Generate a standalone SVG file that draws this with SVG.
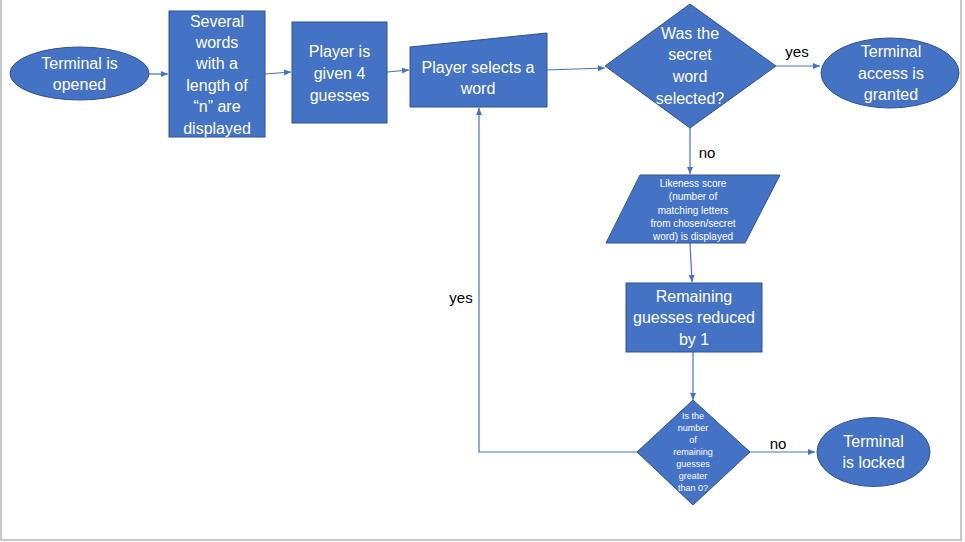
<svg xmlns="http://www.w3.org/2000/svg" width="965" height="542" viewBox="0 0 965 542">
<defs>
<marker id="arr" markerWidth="8" markerHeight="8" refX="7" refY="4" orient="auto" markerUnits="userSpaceOnUse">
<path d="M0,1 L7,4 L0,7 Z" fill="#4472C4"/>
</marker>
<style>
.shape{fill:#4472C4;stroke:#2F528F;stroke-width:1}
.t{fill:#ffffff;font-family:"Liberation Sans",Arial,sans-serif;font-size:16px;text-anchor:middle}
.s{font-size:10px}
.xs{font-size:9px}
.lbl{fill:#000000;font-family:"Liberation Sans",Arial,sans-serif;font-size:15px;text-anchor:middle}
.c{fill:none;stroke:#4472C4;stroke-width:1.2}
</style>
</defs>
<rect width="965" height="542" fill="#ffffff"/>
<polyline points="1,0 1,540 961,540 961,0" fill="none" stroke="#c8c8c8" stroke-width="2"/>

<g id="connectors">
<line class="c" x1="149" y1="74" x2="168" y2="74" marker-end="url(#arr)"/>
<line class="c" x1="265" y1="74" x2="291" y2="72" marker-end="url(#arr)"/>
<line class="c" x1="387" y1="72" x2="409" y2="70" marker-end="url(#arr)"/>
<line class="c" x1="547" y1="70" x2="605" y2="68" marker-end="url(#arr)"/>
<line class="c" x1="776" y1="66" x2="820" y2="66" marker-end="url(#arr)"/>
<line class="c" x1="690" y1="128" x2="690" y2="174" marker-end="url(#arr)"/>
<line class="c" x1="690" y1="243" x2="692" y2="282" marker-end="url(#arr)"/>
<line class="c" x1="693" y1="352" x2="693" y2="400" marker-end="url(#arr)"/>
<line class="c" x1="750" y1="452" x2="815" y2="452" marker-end="url(#arr)"/>
<polyline class="c" points="638,452 479,452 479,108" marker-end="url(#arr)"/>
<text class="lbl" x="797" y="57">yes</text>
<text class="lbl" x="707" y="158">no</text>
<text class="lbl" x="461" y="303">yes</text>
<text class="lbl" x="778" y="449">no</text>
</g>

<g id="terminal-opened">
<ellipse class="shape" cx="79.5" cy="73.5" rx="69.5" ry="26.5"/>
<text class="t" x="79.5" y="69">Terminal is</text>
<text class="t" x="79.5" y="90">opened</text>
</g>

<g id="words-displayed">
<rect class="shape" x="169" y="11" width="96" height="126"/>
<text class="t" x="217" y="27">Several</text>
<text class="t" x="217" y="48">words</text>
<text class="t" x="217" y="69">with a</text>
<text class="t" x="217" y="91">length of</text>
<text class="t" x="217" y="112">“n” are</text>
<text class="t" x="217" y="134">displayed</text>
</g>

<g id="given-guesses">
<rect class="shape" x="292" y="22" width="95" height="101"/>
<text class="t" x="339.5" y="57">Player is</text>
<text class="t" x="339.5" y="79">given 4</text>
<text class="t" x="339.5" y="101">guesses</text>
</g>

<g id="player-selects">
<polygon class="shape" points="410,47 547,33 547,107 410,107"/>
<text class="t" x="478" y="73">Player selects a</text>
<text class="t" x="478" y="94">word</text>
</g>

<g id="secret-selected">
<polygon class="shape" points="690,4 776,66 690,128 605,66"/>
<text class="t" x="690" y="39">Was the</text>
<text class="t" x="690" y="60">secret</text>
<text class="t" x="690" y="82">word</text>
<text class="t" x="690" y="104">selected?</text>
</g>

<g id="access-granted">
<ellipse class="shape" cx="890" cy="73" rx="69" ry="35"/>
<text class="t" x="891" y="57">Terminal</text>
<text class="t" x="891" y="79">access is</text>
<text class="t" x="891" y="100">granted</text>
</g>

<g id="likeness-score">
<polygon class="shape" points="640,175 780,175 745,243 606,243"/>
<text class="t s" x="693" y="187">Likeness score</text>
<text class="t s" x="693" y="200">(number of</text>
<text class="t s" x="693" y="214">matching letters</text>
<text class="t s" x="693" y="227">from chosen/secret</text>
<text class="t s" x="693" y="240">word) is displayed</text>
</g>

<g id="reduce-guesses">
<rect class="shape" x="626" y="283" width="136" height="69"/>
<text class="t" x="694" y="302">Remaining</text>
<text class="t" x="694" y="323">guesses reduced</text>
<text class="t" x="694" y="345">by 1</text>
</g>

<g id="guesses-left">
<polygon class="shape" points="693,400 750,452 693,505 637,452"/>
<text class="t xs" x="693" y="419">Is the</text>
<text class="t xs" x="693" y="431">number</text>
<text class="t xs" x="693" y="443">of</text>
<text class="t xs" x="693" y="455">remaining</text>
<text class="t xs" x="693" y="467">guesses</text>
<text class="t xs" x="693" y="479">greater</text>
<text class="t xs" x="693" y="491">than 0?</text>
</g>

<g id="terminal-locked">
<ellipse class="shape" cx="873.5" cy="452" rx="56.5" ry="34.5"/>
<text class="t" x="873.5" y="447">Terminal</text>
<text class="t" x="873.5" y="468">is locked</text>
</g>
</svg>
